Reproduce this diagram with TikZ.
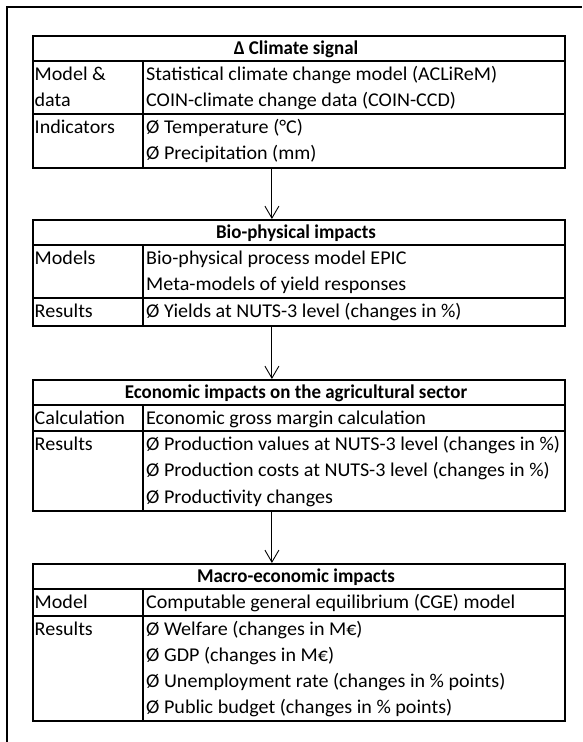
\documentclass[tikz,border=0pt]{standalone}
\usepackage{fontspec}
\setmainfont{Carlito}[FakeStretch=1.03, BoldFeatures={FakeStretch=0.97}]
\usetikzlibrary{arrows.meta}
\begin{document}
\begin{tikzpicture}[x=1pt,y=-1pt,
  frame/.style={line width=1.8pt},
  tbl/.style={draw, line width=1.8pt, inner sep=0pt, anchor=north west, minimum width=532pt},
  rule/.style={line width=1.4pt},
  cell/.style={anchor=base west, inner sep=0pt, font=\fontsize{19.5}{20}\selectfont},
  head/.style={anchor=base, inner sep=0pt, font=\fontsize{19.5}{20}\selectfont\bfseries},
  arr/.style={line width=0.9pt, -{Straight Barb[length=12pt,width=14pt,line width=0.9pt]}}]
\useasboundingbox (0,0) rectangle (582,742);
\draw[frame] (7,742) -- (7,7) -- (582,7);
% table 1
\node[tbl, minimum height=132pt] (t1) at (32,35) {};
\draw[rule] (32,61) -- (564,61) (32,114) -- (564,114) (143,61) -- (143,167);
\node[head] (t1h) at (296,54) {Δ Climate signal};
\node[cell] (t1a) at (34.5,80) {Model \&};
\node[cell] (t1b) at (34.5,106.5) {data};
\node[cell] (t1c) at (146,80) {Statistical climate change model (ACLiReM)};
\node[cell] (t1d) at (146,106.5) {COIN-climate change data (COIN-CCD)};
\node[cell] (t1e) at (34.5,133) {Indicators};
\node[cell] (t1f) at (146,133) {Ø Temperature (°C)};
\node[cell] (t1g) at (146,159.5) {Ø Precipitation (mm)};
% table 2
\node[tbl, minimum height=106pt] (t2) at (32,219) {};
\draw[rule] (32,245) -- (564,245) (32,298) -- (564,298) (143,245) -- (143,325);
\node[head] (t2h) at (296,238) {Bio-physical impacts};
\node[cell] (t2a) at (34.5,264) {Models};
\node[cell] (t2b) at (146,264) {Bio-physical process model EPIC};
\node[cell] (t2c) at (146,290.5) {Meta-models of yield responses};
\node[cell] (t2d) at (34.5,317) {Results};
\node[cell] (t2e) at (146,317) {Ø Yields at NUTS-3 level (changes in \%)};
% table 3
\node[tbl, minimum height=131pt] (t3) at (32,379) {};
\draw[rule] (32,405) -- (564,405) (32,431) -- (564,431) (143,405) -- (143,510);
\node[head] (t3h) at (296,398) {Economic impacts on the agricultural sector};
\node[cell] (t3a) at (34.5,424) {Calculation};
\node[cell] (t3b) at (146,424) {Economic gross margin calculation};
\node[cell] (t3c) at (34.5,450) {Results};
\node[cell] (t3d) at (146,450) {Ø Production values at NUTS-3 level (changes in \%)};
\node[cell] (t3e) at (146,476.5) {Ø Production costs at NUTS-3 level (changes in \%)};
\node[cell] (t3f) at (146,503) {Ø Productivity changes};
% table 4
\node[tbl, minimum height=157pt] (t4) at (32,563) {};
\draw[rule] (32,589) -- (564,589) (32,616) -- (564,616) (143,589) -- (143,720);
\node[head] (t4h) at (296,582) {Macro-economic impacts};
\node[cell] (t4a) at (34.5,608) {Model};
\node[cell] (t4b) at (146,608) {Computable general equilibrium (CGE) model};
\node[cell] (t4c) at (34.5,635) {Results};
\node[cell] (t4d) at (146,635) {Ø Welfare (changes in M€)};
\node[cell] (t4e) at (146,661) {Ø GDP (changes in M€)};
\node[cell] (t4f) at (146,687) {Ø Unemployment rate (changes in \% points)};
\node[cell] (t4g) at (146,713) {Ø Public budget (changes in \% points)};
% arrows
\draw[arr] ([xshift=-27pt]t1.south) -- ([xshift=-27pt]t2.north);
\draw[arr] ([xshift=-27pt]t2.south) -- ([xshift=-27pt]t3.north);
\draw[arr] ([xshift=-27pt]t3.south) -- ([xshift=-27pt]t4.north);
\end{tikzpicture}
\end{document}
